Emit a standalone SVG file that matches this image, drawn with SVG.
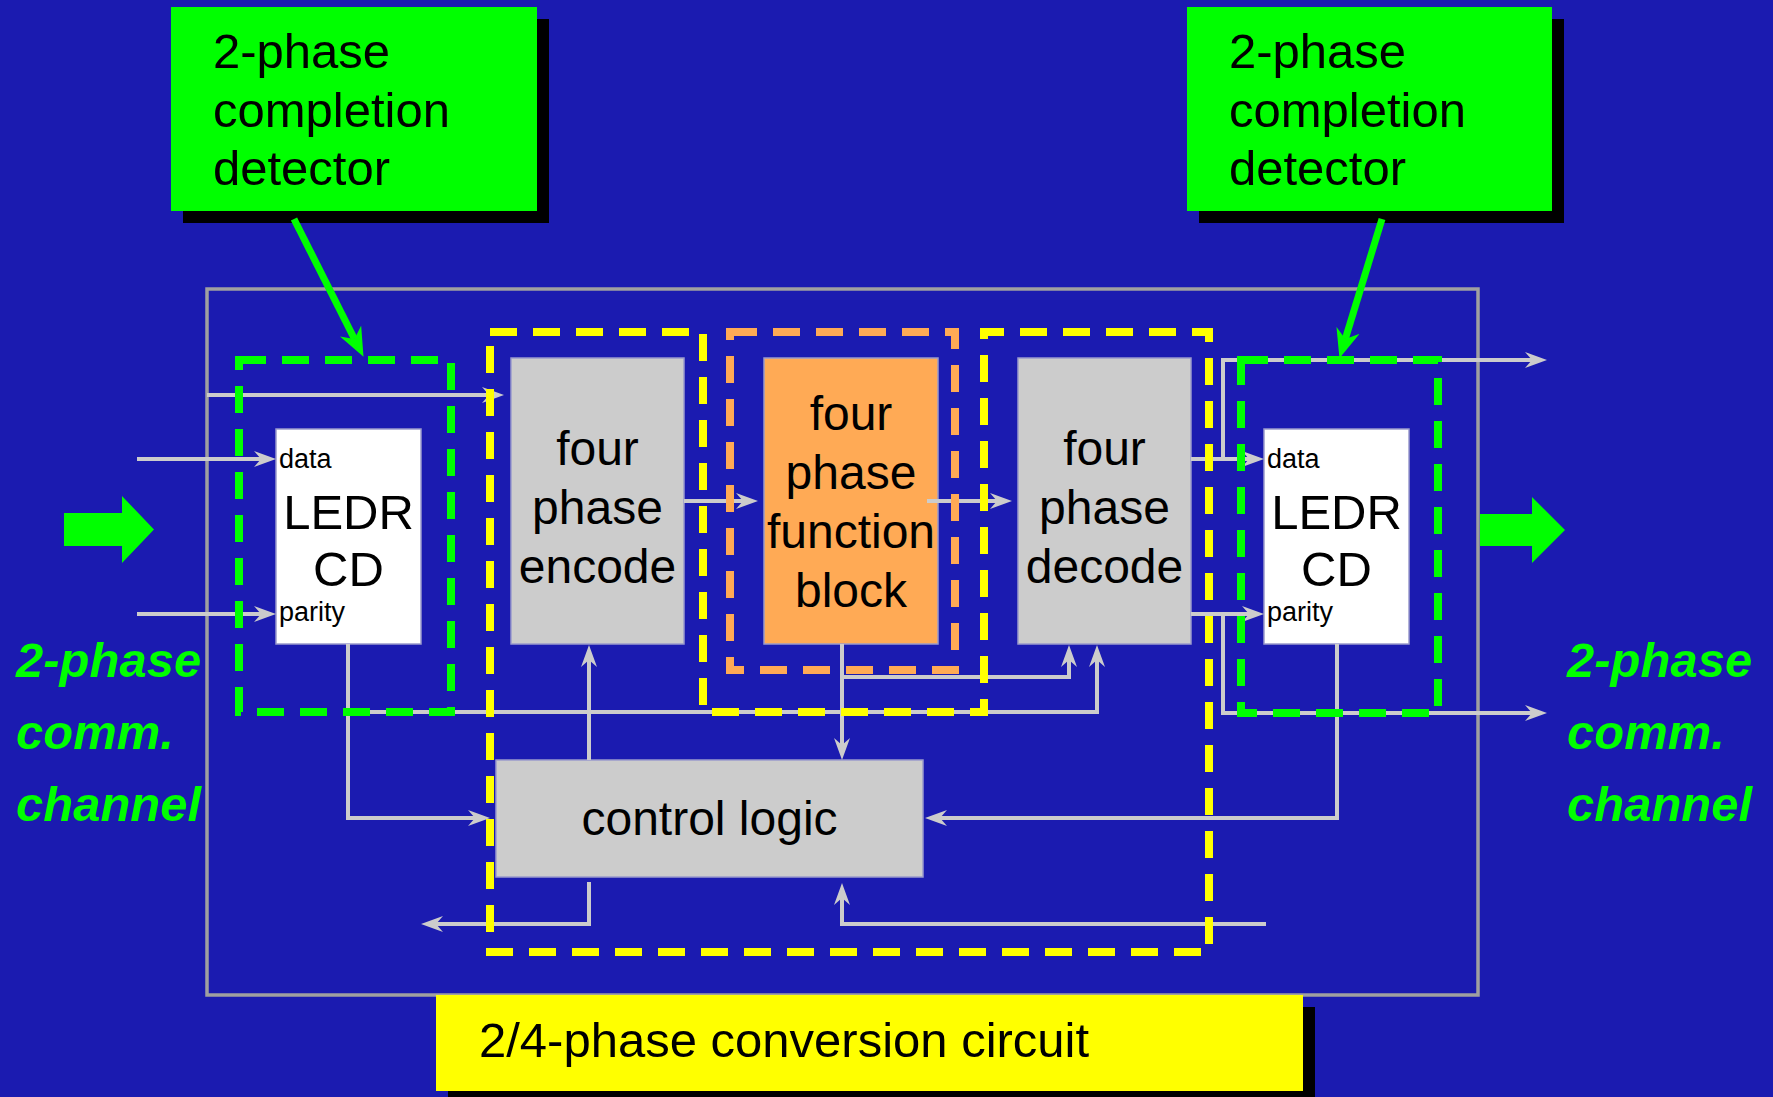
<svg xmlns="http://www.w3.org/2000/svg" width="1773" height="1097" viewBox="0 0 1773 1097">
<defs>
<style>
text{font-family:"Liberation Sans",Arial,sans-serif;fill:#000}
.big{font-size:49px}
.mid{font-size:48px;text-anchor:middle}
.small{font-size:27px}
.chan{font-size:49px;font-weight:bold;font-style:italic;fill:#00ff00}
.gbox{fill:#cccccc;stroke:#9a9acc;stroke-width:1.5}
.wbox{fill:#ffffff;stroke:#9a9acc;stroke-width:1.5}
.obox{fill:#ffaa55;stroke:#9a9acc;stroke-width:1.5}
.wire{fill:none;stroke:#cccccc;stroke-width:4;marker-end:url(#ah)}
.dash{fill:none;stroke-width:8;stroke-dasharray:27 16}
.callout{fill:none;stroke:#00ff00;stroke-width:7;marker-end:url(#gh)}
</style>
<marker id="ah" markerUnits="userSpaceOnUse" viewBox="0 0 22 16" refX="8" refY="8" markerWidth="22" markerHeight="16" orient="auto">
<path d="M0,0 L22,8 L0,16 L7,8 Z" fill="#cccccc"/>
</marker>
<marker id="gh" markerUnits="userSpaceOnUse" viewBox="0 0 29 24" refX="9" refY="12" markerWidth="29" markerHeight="24" orient="auto">
<path d="M0,0 L29,12 L0,24 L9,12 Z" fill="#00ff00"/>
</marker>
</defs>
<rect x="0" y="0" width="1773" height="1097" fill="#1b1bb0"/>

<g id="outer-circuit">
<rect x="207" y="289" width="1271" height="706" fill="none" stroke="#a0a0a0" stroke-width="3.5"/>
</g>

<g id="big-arrow-left">
<polygon points="64,513 122,513 122,496 154,529.5 122,563 122,546 64,546" fill="#00ff00"/>
</g>
<g id="big-arrow-right">
<polygon points="1480,514 1532,514 1532,497 1565,530 1532,563 1532,546 1480,546" fill="#00ff00"/>
</g>

<g id="channel-left">
<text class="chan" x="16" y="677">2-phase</text>
<text class="chan" x="16" y="749">comm.</text>
<text class="chan" x="16" y="821">channel</text>
</g>
<g id="channel-right">
<text class="chan" x="1567" y="677">2-phase</text>
<text class="chan" x="1567" y="749">comm.</text>
<text class="chan" x="1567" y="821">channel</text>
</g>

<g id="ledr-left">
<rect class="wbox" x="276" y="429" width="145" height="215"/>
<text class="small" x="279" y="468">data</text>
<text class="mid" x="348.5" y="529" style="font-size:49px">LEDR</text>
<text class="mid" x="348.5" y="586" style="font-size:49px">CD</text>
<text class="small" x="279" y="621">parity</text>
</g>

<g id="encode">
<rect class="gbox" x="511" y="358" width="173" height="286"/>
<text class="mid" x="597.5" y="465">four</text>
<text class="mid" x="597.5" y="524">phase</text>
<text class="mid" x="597.5" y="583">encode</text>
</g>

<g id="function-block">
<rect class="obox" x="764" y="358" width="174" height="286"/>
<text class="mid" x="851" y="430">four</text>
<text class="mid" x="851" y="489">phase</text>
<text class="mid" x="851" y="548">function</text>
<text class="mid" x="851" y="607">block</text>
</g>

<g id="decode">
<rect class="gbox" x="1018" y="358" width="173" height="286"/>
<text class="mid" x="1104.5" y="465">four</text>
<text class="mid" x="1104.5" y="524">phase</text>
<text class="mid" x="1104.5" y="583">decode</text>
</g>

<g id="ledr-right">
<rect class="wbox" x="1264" y="429" width="145" height="215"/>
<text class="small" x="1267" y="468">data</text>
<text class="mid" x="1336.5" y="529" style="font-size:49px">LEDR</text>
<text class="mid" x="1336.5" y="586" style="font-size:49px">CD</text>
<text class="small" x="1267" y="621">parity</text>
</g>

<g id="control-logic">
<rect class="gbox" x="496" y="760" width="427" height="117"/>
<text class="mid" x="709.5" y="835">control logic</text>
</g>

<g id="connectors">
<path class="wire" d="M137,459 H262"/>
<path class="wire" d="M137,614 H262"/>
<path class="wire" d="M207,395 H490"/>
<path class="wire" d="M684,501 H744"/>
<path class="wire" d="M927,501 H998"/>
<path class="wire" d="M1191,459 H1250"/>
<path class="wire" d="M1191,614 H1250"/>
<path class="wire" d="M1223,459 V360 H1533"/>
<path class="wire" d="M1223,614 V713 H1533"/>
<path class="wire" d="M842,644 V746"/>
<path class="wire" d="M842,677 H1069 V659"/>
<path class="wire" d="M348,644 V818 H476"/>
<path class="wire" d="M348,712 H1097 V659"/>
<path class="wire" d="M589,760 V659"/>
<path class="wire" d="M1337,644 V818 H939"/>
<path class="wire" d="M589,882 V924 H435"/>
<path class="wire" d="M1266,924 H842 V897"/>
</g>

<g id="dashed-groups">
<rect class="dash" x="239" y="360" width="212" height="352" stroke="#00ff00"/>
<rect class="dash" x="1241" y="360" width="197" height="353" stroke="#00ff00"/>
<rect class="dash" x="730" y="332" width="225" height="338" stroke="#ffaa55"/>
<polygon class="dash" points="490,332 703,332 703,712 984,712 984,332 1209,332 1209,952 490,952" stroke="#ffff00"/>
</g>

<g id="detector-left">
<rect x="183" y="19" width="366" height="204" fill="#000"/>
<rect x="171" y="7" width="366" height="204" fill="#00ff00"/>
<text class="big" x="213" y="68">2-phase</text>
<text class="big" x="213" y="127">completion</text>
<text class="big" x="213" y="185">detector</text>
</g>
<g id="detector-right">
<rect x="1199" y="19" width="365" height="204" fill="#000"/>
<rect x="1187" y="7" width="365" height="204" fill="#00ff00"/>
<text class="big" x="1229" y="68">2-phase</text>
<text class="big" x="1229" y="127">completion</text>
<text class="big" x="1229" y="185">detector</text>
</g>

<g id="callouts">
<path class="callout" d="M294,219 L354.5,339"/>
<path class="callout" d="M1382,219 L1345.3,339"/>
</g>

<g id="circuit-label">
<rect x="448" y="1007" width="867" height="96" fill="#000"/>
<rect x="436" y="995" width="867" height="96" fill="#ffff00"/>
<text class="big" x="479" y="1057">2/4-phase conversion circuit</text>
</g>
</svg>
